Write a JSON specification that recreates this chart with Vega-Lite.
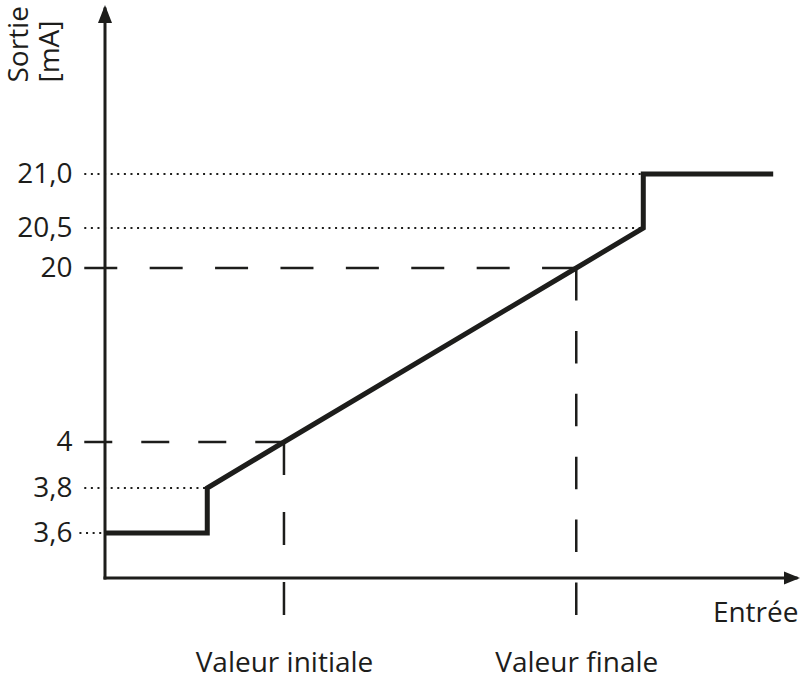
{
  "$schema": "https://vega.github.io/schema/vega-lite/v6.json",
  "width": 691,
  "height": 569,
  "autosize": "none",
  "padding": {"left": 105, "top": 9, "right": 5, "bottom": 96},
  "background": "white",
  "config": {"view": {"stroke": null}, "font": "Open Sans"},
  "encoding": {
    "x": {
      "field": "x",
      "type": "quantitative",
      "scale": {"domain": [0, 100], "range": [0, 691], "nice": false, "zero": false},
      "axis": {
        "values": [25.9, 68.2],
        "labelExpr": "datum.value < 50 ? 'Valeur initiale' : 'Valeur finale'",
        "domain": false, "ticks": false, "tickSize": 0, "grid": false,
        "labelPadding": 93, "labelBaseline": "alphabetic", "labelAlign": "center",
        "labelFontSize": 28, "labelColor": "#1d1d1b", "labelFont": "Open Sans",
        "labelOverlap": false, "labelFlush": false, "labelBound": false,
        "title": "Entrée", "titleFontSize": 28, "titleFontWeight": "normal", "titleFont": "Open Sans",
        "titleColor": "#1d1d1b", "titleX": 693, "titleY": 43, "titleAlign": "right",
        "titleBaseline": "alphabetic", "titleAngle": 0
      }
    },
    "y": {
      "field": "y",
      "type": "quantitative",
      "scale": {
        "domain": [3.2, 3.4, 3.6, 3.8, 4, 20, 20.5, 21, 23],
        "range": [606, 569, 524, 479, 433, 259, 219, 165, 0],
        "nice": false, "zero": false
      },
      "axis": {
        "values": [3.6, 3.8, 4, 20, 20.5, 21],
        "labelExpr": "datum.value == 21 ? '21,0' : replace(toString(datum.value), '.', ',')",
        "domain": false, "ticks": false, "tickSize": 0, "grid": false,
        "labelPadding": 33, "labelAlign": "right", "labelBaseline": "middle",
        "labelFontSize": 28, "labelColor": "#1d1d1b", "labelFont": "Open Sans",
        "labelOverlap": false, "labelFlush": false, "labelBound": false,
        "title": ["Sortie", "[mA]"], "titleFontSize": 28, "titleFontWeight": "normal", "titleFont": "Open Sans",
        "titleColor": "#1d1d1b", "titleAngle": 270, "titleX": -78, "titleY": 73,
        "titleAlign": "left", "titleBaseline": "alphabetic", "titleLineHeight": 31
      }
    }
  },
  "layer": [
    {
      "data": {"values": [
        {"x": -3.7, "x2": 0, "y": 3.6},
        {"x": -3, "x2": 14.8, "y": 3.8},
        {"x": -3, "x2": 77.9, "y": 20.5},
        {"x": -3, "x2": 77.9, "y": 21}
      ]},
      "mark": {"type": "rule", "color": "#1d1d1b", "strokeWidth": 2, "strokeDash": [2, 4.6]},
      "encoding": {"x2": {"field": "x2"}}
    },
    {
      "data": {"values": [
        {"seg": "h4", "x": -3, "x2": 25.9, "y": 4, "y2": 4},
        {"seg": "v4", "x": 25.9, "x2": 25.9, "y": 4, "y2": 3.2},
        {"seg": "h20", "x": -3, "x2": 68.2, "y": 20, "y2": 20},
        {"seg": "v20", "x": 68.2, "x2": 68.2, "y": 20, "y2": 3.2}
      ]},
      "mark": {"type": "rule", "color": "#1d1d1b", "strokeWidth": 2.5},
      "encoding": {
        "x2": {"field": "x2"},
        "y2": {"field": "y2"},
        "strokeDash": {
          "field": "seg", "type": "nominal",
          "scale": {"domain": ["h4", "v4", "h20", "v20"], "range": [[28, 29], [33, 37], [33, 32.4], [32.5, 30.4]]},
          "legend": null
        }
      }
    },
    {
      "data": {"values": [
        {"x": 0, "x2": 0, "y": 3.4, "y2": 23},
        {"x": 0, "x2": 100, "y": 3.4, "y2": 3.4}
      ]},
      "mark": {"type": "rule", "color": "#1d1d1b", "strokeWidth": 3, "strokeCap": "square"},
      "encoding": {"x2": {"field": "x2"}, "y2": {"field": "y2"}}
    },
    {
      "data": {"values": [{"x": 0, "y": 23}]},
      "mark": {"type": "point", "shape": "M0,-4L7,14L-7,14Z", "size": 4, "filled": true, "opacity": 1, "color": "#1d1d1b", "strokeWidth": 0}
    },
    {
      "data": {"values": [{"x": 100, "y": 3.4}]},
      "mark": {"type": "point", "shape": "M4,0L-12,6.5L-12,-6.5Z", "size": 4, "filled": true, "opacity": 1, "color": "#1d1d1b", "strokeWidth": 0}
    },
    {
      "data": {"values": [
        {"i": 0, "x": 0, "y": 3.6},
        {"i": 1, "x": 14.8, "y": 3.6},
        {"i": 2, "x": 14.8, "y": 3.8},
        {"i": 3, "x": 25.9, "y": 4},
        {"i": 4, "x": 68.2, "y": 20},
        {"i": 5, "x": 77.9, "y": 20.5},
        {"i": 6, "x": 77.9, "y": 21},
        {"i": 7, "x": 96.7, "y": 21}
      ]},
      "mark": {"type": "line", "color": "#1d1d1b", "strokeWidth": 5, "strokeJoin": "miter", "strokeCap": "butt"},
      "encoding": {"order": {"field": "i", "type": "quantitative"}}
    }
  ]
}
